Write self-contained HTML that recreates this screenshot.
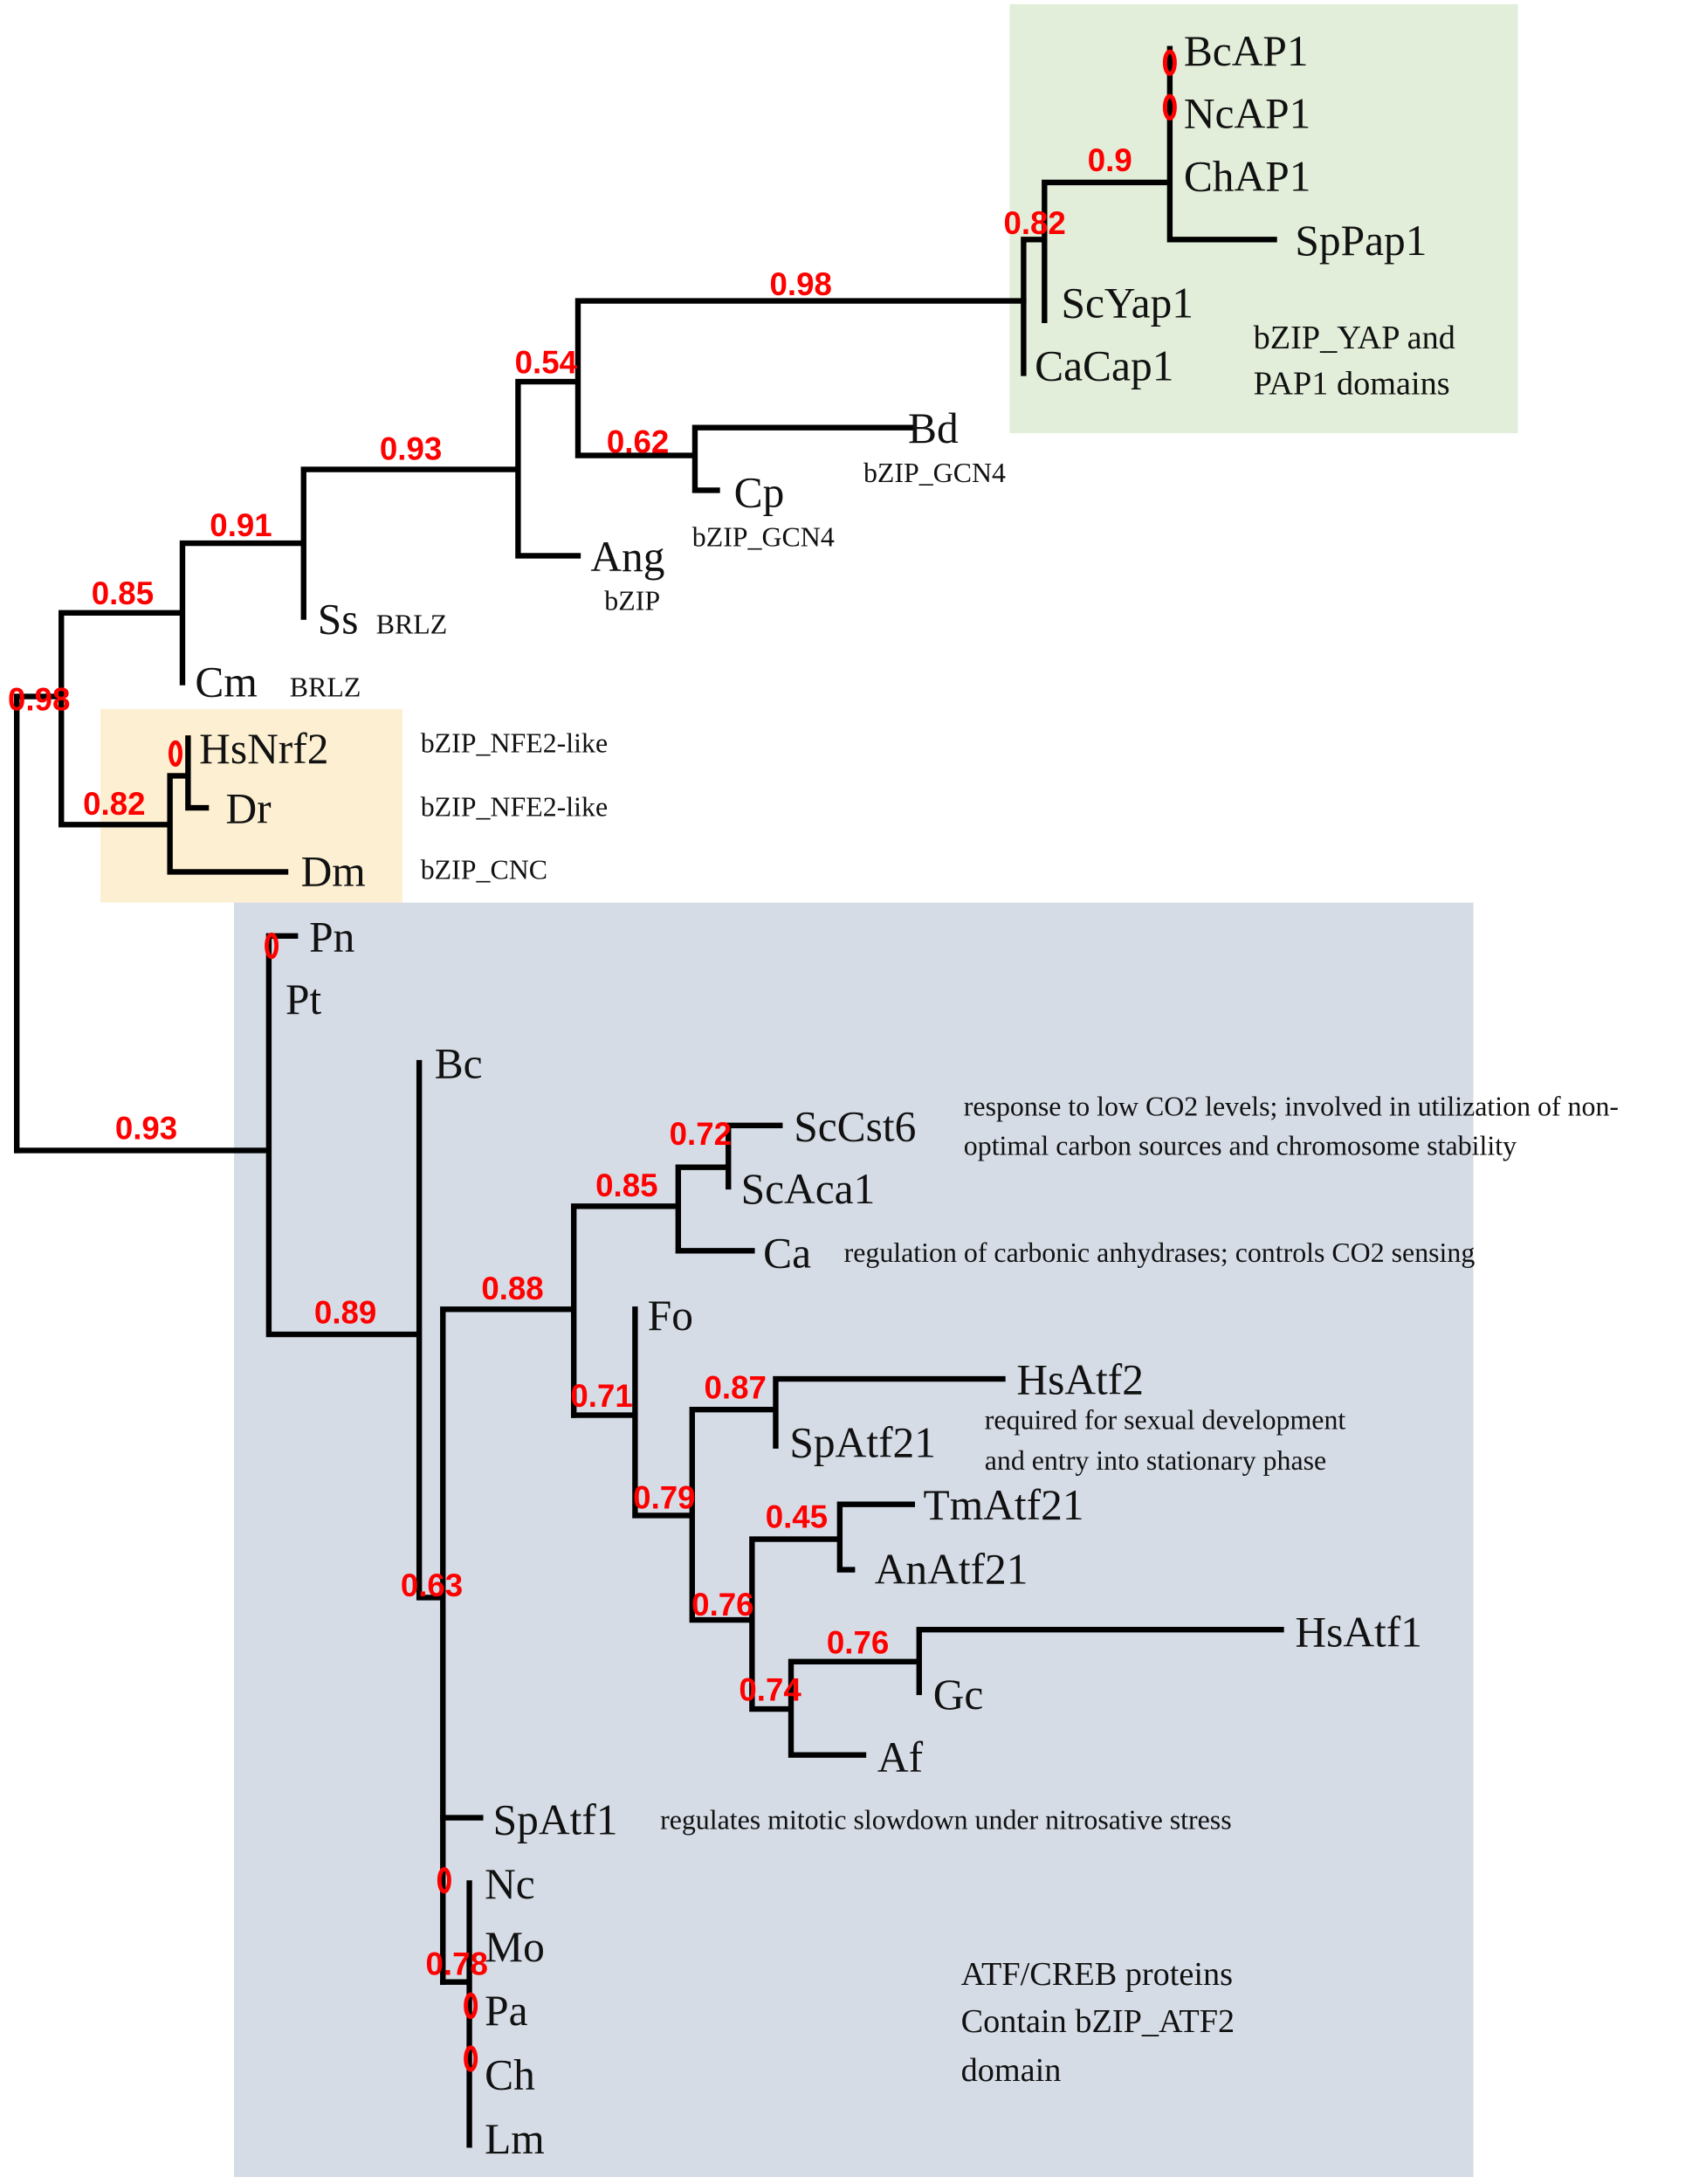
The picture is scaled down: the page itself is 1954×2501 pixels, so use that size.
<!DOCTYPE html>
<html><head><meta charset="utf-8"><style>
html,body{margin:0;padding:0;background:#fff;}
svg{display:block;}
.t{font-family:"Liberation Serif",serif;font-size:31px;fill:#111;}
.s{font-family:"Liberation Serif",serif;font-size:20px;fill:#111;}
.m{font-family:"Liberation Serif",serif;font-size:24px;fill:#111;}
.r{font-family:"Liberation Sans",sans-serif;font-weight:bold;font-size:23px;fill:#f00;text-anchor:middle;}
</style></head><body>
<svg width="1954" height="2501" viewBox="0 0 1225 1568" xmlns="http://www.w3.org/2000/svg">
<rect x="725" y="3" width="365" height="308" fill="#e2eed9"/>
<rect x="72" y="509" width="217" height="139" fill="#fdf0d2"/>
<rect x="168" y="648" width="890" height="915" fill="#d6dce6"/>
<g stroke="#000" stroke-width="4" fill="none" stroke-linecap="square">
<path d="M12 500V826M12 500H44M44 440V592M44 440H131M131 390V490M131 390H218M218 337V443M218 337H372M372 274V399M372 399H415M372 274H415M415 216V327M415 216H735M415 327H499M499 307V352M499 307H655M499 352H515"/>
<path d="M735 172V268M735 172H750M750 131V230M750 131H840M840 35V172M840 172H915"/>
<path d="M44 592H122M122 557V626M122 626H205M122 557H135M135 530V580M135 580H148"/>
<path d="M12 826H193M193 672V958M193 672H212M193 958H301M301 763V1147M301 1147H318M318 940V1423M318 940H412M412 866V1016M412 866H487M487 838V898M487 898H540M487 838H523M523 808V852M523 808H560"/>
<path d="M412 1016H456M456 940V1088M456 1088H497M497 1012V1163M497 1012H557M557 990V1038M557 990H720M497 1163H540M540 1105V1227M540 1105H603M603 1080V1127M603 1080H655M603 1127H612M540 1227H568M568 1193V1260M568 1260H620M568 1193H660M660 1170V1215M660 1170H920"/>
<path d="M318 1305H345M318 1423H337M337 1352V1540"/>
</g>
<g fill="none" stroke="#f00" stroke-width="3">
<ellipse cx="840" cy="45" rx="3.5" ry="8"/><ellipse cx="840" cy="77" rx="3.5" ry="8"/>
<ellipse cx="126" cy="541" rx="3.5" ry="8"/><ellipse cx="195" cy="679" rx="3.5" ry="8"/>
<ellipse cx="319" cy="1350" rx="3.5" ry="8"/><ellipse cx="338" cy="1440" rx="3.5" ry="8"/><ellipse cx="338" cy="1478" rx="3.5" ry="8"/>
</g>
<g class="t">
<text x="850" y="47">BcAP1</text><text x="850" y="92">NcAP1</text><text x="850" y="137">ChAP1</text>
<text x="930" y="183">SpPap1</text><text x="762" y="228">ScYap1</text><text x="743" y="273">CaCap1</text>
<text x="652" y="318">Bd</text><text x="527" y="364">Cp</text><text x="424" y="410">Ang</text>
<text x="228" y="455">Ss</text><text x="140" y="500">Cm</text>
<text x="143" y="548">HsNrf2</text><text x="162" y="591">Dr</text><text x="216" y="636">Dm</text>
<text x="222" y="683">Pn</text><text x="205" y="728">Pt</text><text x="312" y="774">Bc</text>
<text x="570" y="819">ScCst6</text><text x="532" y="864">ScAca1</text><text x="548" y="910">Ca</text>
<text x="465" y="955">Fo</text><text x="730" y="1001">HsAtf2</text><text x="567" y="1046">SpAtf21</text>
<text x="663" y="1091">TmAtf21</text><text x="628" y="1137">AnAtf21</text><text x="930" y="1182">HsAtf1</text>
<text x="670" y="1227">Gc</text><text x="630" y="1272">Af</text><text x="354" y="1317">SpAtf1</text>
<text x="348" y="1363">Nc</text><text x="348" y="1408">Mo</text><text x="348" y="1454">Pa</text>
<text x="348" y="1500">Ch</text><text x="348" y="1546">Lm</text>
</g>
<g class="m">
<text x="900" y="250">bZIP_YAP and</text><text x="900" y="283">PAP1 domains</text>
<text x="690" y="1425">ATF/CREB proteins</text><text x="690" y="1459">Contain bZIP_ATF2</text><text x="690" y="1494">domain</text>
</g>
<g class="s">
<text x="620" y="346">bZIP_GCN4</text><text x="497" y="392">bZIP_GCN4</text><text x="434" y="438">bZIP</text>
<text x="270" y="455">BRLZ</text><text x="208" y="500">BRLZ</text>
<text x="302" y="540">bZIP_NFE2-like</text><text x="302" y="586">bZIP_NFE2-like</text><text x="302" y="631">bZIP_CNC</text>
<text x="692" y="801">response to low CO2 levels; involved in utilization  of non-</text>
<text x="692" y="829">optimal  carbon sources and chromosome stability</text>
<text x="606" y="906">regulation  of carbonic anhydrases; controls CO2 sensing</text>
<text x="707" y="1026">required for sexual development</text><text x="707" y="1055">and entry into  stationary phase</text>
<text x="474" y="1313">regulates mitotic  slowdown under nitrosative stress</text>
</g>
<g class="r">
<text x="575" y="212">0.98</text><text x="797" y="123">0.9</text><text x="743" y="168">0.82</text>
<text x="392" y="268">0.54</text><text x="458" y="325">0.62</text><text x="295" y="330">0.93</text>
<text x="173" y="385">0.91</text><text x="88" y="434">0.85</text><text x="28" y="510">0.98</text>
<text x="82" y="585">0.82</text><text x="105" y="818">0.93</text><text x="248" y="950">0.89</text>
<text x="368" y="933">0.88</text><text x="450" y="859">0.85</text><text x="503" y="822">0.72</text>
<text x="432" y="1010">0.71</text><text x="528" y="1004">0.87</text><text x="477" y="1083">0.79</text>
<text x="572" y="1097">0.45</text><text x="519" y="1160">0.76</text><text x="616" y="1187">0.76</text>
<text x="553" y="1221">0.74</text><text x="310" y="1146">0.63</text><text x="328" y="1418">0.78</text>
</g>
</svg>
</body></html>
